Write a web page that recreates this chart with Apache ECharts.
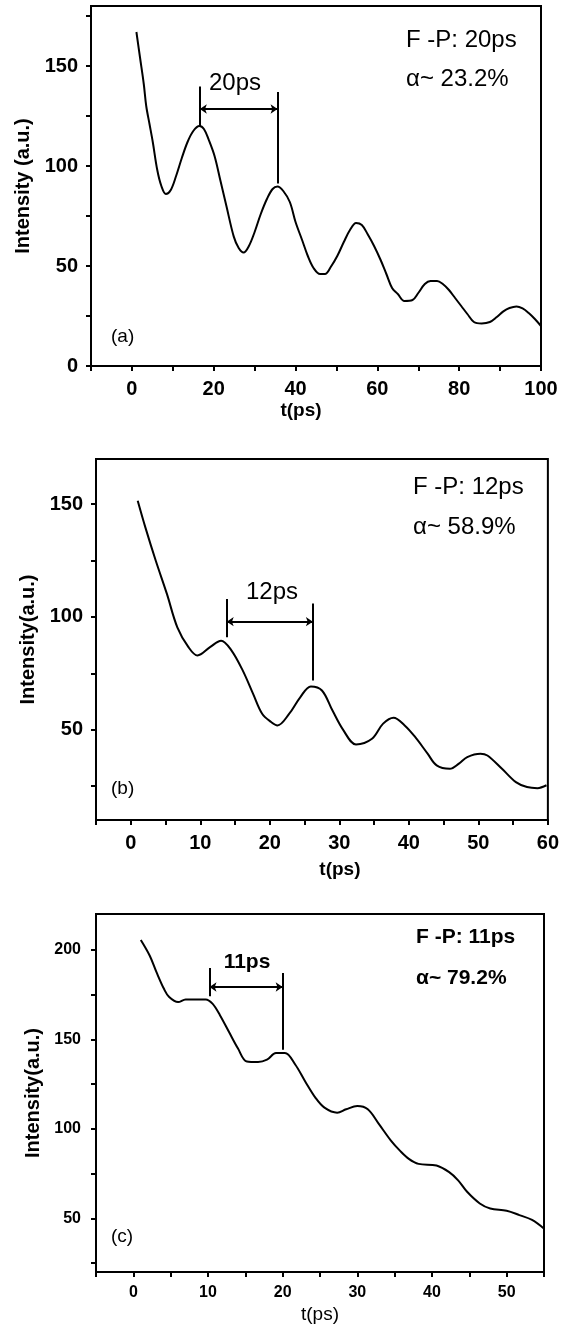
<!DOCTYPE html>
<html><head><meta charset="utf-8">
<script src="https://cdn.jsdelivr.net/npm/echarts@6/dist/echarts.min.js"></script>
<style>html,body{margin:0;padding:0;background:#fff}#c{width:562px;height:1325px}</style>
</head><body><div id="c"></div>
<script>
// ---------- Panel (a) data ----------
const tA = [1.1,2.0,2.9,3.5,4.3,5.1,6.2,7.2,8.3,9.5,10.8,12.2,13.6,15.0,16.5,17.6,18.8,20.2,21.6,23.1,24.9,26.1,27.3,28.6,30.0,31.5,33.0,34.4,35.6,37.0,38.6,40.0,41.6,43.0,44.4,46.0,47.2,48.6,50.2,51.8,53.3,54.8,56.2,57.6,59.2,60.8,62.2,63.6,65.0,66.6,68.6,70.0,71.6,73.0,74.6,76.0,77.5,79.0,80.5,82.0,83.6,85.5,87.5,89.2,90.8,92.3,94.0,95.5,97.0,98.5,100];
const iA = [167,154,141,130,121,112,98,90,86,88,95,104,112,117.5,120,118.5,113,105,93,80,64.7,59,56.7,60,67,76,83.5,88.5,89.7,87.5,82,72,63,55,49,46,46,49.5,55,62,68,71.5,70.5,66,60,53,46,39,36,32.5,33,36.5,41,42.5,42.5,41,38,34,30,26,22,21.3,22,24.5,27.3,29,29.8,28.8,26.5,23.5,20];
// ---------- Panel (b) data ----------
const tB = [1.0,2.1,3.6,5.2,6.7,8.3,9.6,11.4,13.0,14.5,16.1,17.6,18.9,20.2,21.1,22.8,24.4,25.9,27.5,29.0,30.6,32.4,34.7,36.3,37.8,39.4,40.9,42.7,44.0,45.9,47.2,48.4,50.3,51.3,53.4,55.4,57.0,58.5,59.8];
const iB = [151.5,139.7,124.9,110.2,95.4,86.6,82.9,86.6,89.5,85.1,76.3,65.9,57.1,53.4,51.9,57.1,64.5,69.2,67.4,58.6,49.7,43.5,46.0,52.7,55.3,51.9,46.8,39.4,34.2,32.7,35.0,37.9,39.4,38.6,32.7,26.8,24.6,24.1,25.4];
// ---------- Panel (c) data ----------
const tC = [1.0,2.2,3.1,4.1,4.8,6.0,7.0,9.7,10.6,11.6,12.8,14.0,15.2,16.7,17.9,19.1,20.3,21.7,23.0,24.4,25.6,27.3,28.5,30.0,31.4,32.9,34.5,35.7,36.9,38.2,40.6,42.3,43.5,44.7,46.4,47.8,50.0,51.7,53.4,55.1];
const iC = [205.5,196.7,187.5,178.2,173.6,170.8,172.3,172.3,169.9,163.5,154.2,145.0,137.6,137.3,138.6,142.3,142.3,135.8,126.6,117.3,111.8,109.0,110.9,112.7,110.9,102.6,93.4,87.8,83.2,80.4,79.5,75.8,71.2,64.8,58.3,55.5,54.2,51.8,49.1,43.9];

// ---------- axis ranges & ticks ----------
const xRangeA = [-10, 100], yRangeA = [0, 180];
const xLabelsA = [0, 20, 40, 60, 80, 100];
const xTicksA = [-10, 0, 10, 20, 30, 40, 50, 60, 70, 80, 90, 100];
const yLabelsA = [0, 50, 100, 150];
const yTicksA = [0, 25, 50, 75, 100, 125, 150, 175];

const xRangeB = [-5, 60], yRangeB = [10, 170];
const xLabelsB = [0, 10, 20, 30, 40, 50, 60];
const xTicksB = [-5, 0, 5, 10, 15, 20, 25, 30, 35, 40, 45, 50, 55, 60];
const yLabelsB = [50, 100, 150];
const yTicksB = [25, 50, 75, 100, 125, 150];

const xRangeC = [-5, 55], yRangeC = [20, 220];
const xLabelsC = [0, 10, 20, 30, 40, 50];
const xTicksC = [-5, 0, 5, 10, 15, 20, 25, 30, 35, 40, 45, 50, 55];
const yLabelsC = [50, 100, 150, 200];
const yTicksC = [25, 50, 75, 100, 125, 150, 175, 200];

// ---------- bracket annotations: [x1, x2, yTop1, yBot1, yTop2, yBot2, yArrow] ----------
const bracketA = [16.6, 35.6, 139.7, 120, 137, 91.3, 128.5];
const bracketB = [13.8, 26.2, 108, 91, 106, 71.8, 97.9];
const bracketC = [10.2, 20.0, 189.8, 174, 187.1, 144.1, 179.2];

const texts = {
  a: ['F -P: 20ps', 'α~ 23.2%', '20ps', '(a)'],
  b: ['F -P: 12ps', 'α~ 58.9%', '12ps', '(b)'],
  c: ['F -P: 11ps', 'α~ 79.2%', '11ps', '(c)']
};

const FONT = 'Liberation Sans, Arial, sans-serif';
const chart = echarts.init(document.getElementById('c'), null, {renderer: 'canvas'});

function xAxis(idx, range, labels, ticks, lblSize, nameGap, namePad, nameBold) {
  return {
    type: 'value', gridIndex: idx, min: range[0], max: range[1],
    name: 't(ps)', nameLocation: 'middle', nameGap: nameGap,
    nameTextStyle: {fontFamily: FONT, fontWeight: nameBold ? 'bold' : 'normal', fontSize: 19, color: '#000', padding: namePad},
    axisLine: {show: true, onZero: false, lineStyle: {color: '#000', width: 2}},
    axisTick: {show: true, inside: false, length: 5, customValues: ticks, lineStyle: {color: '#000', width: 2}},
    axisLabel: {customValues: labels, margin: 13, fontFamily: FONT, fontWeight: 'bold', fontSize: lblSize, color: '#000'},
    splitLine: {show: false}
  };
}
function yAxis(idx, range, labels, ticks, lblSize, name, margin) {
  return {
    type: 'value', gridIndex: idx, min: range[0], max: range[1],
    name: name, nameLocation: 'middle', nameGap: 53, nameRotate: 90,
    nameTextStyle: {fontFamily: FONT, fontWeight: 'bold', fontSize: 20, color: '#000'},
    axisLine: {show: true, onZero: false, lineStyle: {color: '#000', width: 2}},
    axisTick: {show: true, inside: false, length: 5, customValues: ticks, lineStyle: {color: '#000', width: 2}},
    axisLabel: {customValues: labels, margin: margin, fontFamily: FONT, fontWeight: 'bold', fontSize: lblSize, color: '#000'},
    splitLine: {show: false}
  };
}
function zip(t, v) { return t.map((x, i) => [x, v[i]]); }
function bracket(b) {
  return [
    [{coord: [b[0], b[2]], symbol: 'none'}, {coord: [b[0], b[3]], symbol: 'none'}],
    [{coord: [b[1], b[4]], symbol: 'none'}, {coord: [b[1], b[5]], symbol: 'none'}],
    [{coord: [b[0], b[6]], symbol: 'arrow', symbolSize: 7}, {coord: [b[1], b[6]], symbol: 'arrow', symbolSize: 7}]
  ];
}
function series(idx, data, br) {
  return {
    type: 'line', xAxisIndex: idx, yAxisIndex: idx, data: data,
    showSymbol: false, smooth: 0.35, lineStyle: {color: '#000', width: 2}, silent: true,
    markLine: {silent: true, symbol: ['none', 'none'], label: {show: false},
      lineStyle: {color: '#000', width: 2, type: 'solid'}, data: bracket(br)}
  };
}
function txt(x, y, s, size, align, bold) {
  return {type: 'text', x: x, y: y, silent: true,
    style: {text: s, fill: '#000', font: (bold ? 'bold ' : '') + size + 'px ' + FONT, align: align, verticalAlign: 'middle'}};
}

const option = {
  animation: false,
  backgroundColor: '#fff',
  grid: [
    {left: 91, top: 6, width: 450, height: 360, show: true, borderColor: '#000', borderWidth: 2, backgroundColor: 'transparent'},
    {left: 96, top: 459, width: 452, height: 361, show: true, borderColor: '#000', borderWidth: 2, backgroundColor: 'transparent'},
    {left: 96, top: 914, width: 448, height: 358, show: true, borderColor: '#000', borderWidth: 2, backgroundColor: 'transparent'}
  ],
  xAxis: [
    xAxis(0, xRangeA, xLabelsA, xTicksA, 20, 35, [0, 30, 0, 0], true),
    xAxis(1, xRangeB, xLabelsB, xTicksB, 20, 40, [0, 0, 0, 36], true),
    xAxis(2, xRangeC, xLabelsC, xTicksC, 16, 33, [0, 0, 0, 0], false)
  ],
  yAxis: [
    yAxis(0, yRangeA, yLabelsA, yTicksA, 20, 'Intensity (a.u.)', 13),
    yAxis(1, yRangeB, yLabelsB, yTicksB, 20, 'Intensity(a.u.)', 13),
    yAxis(2, yRangeC, yLabelsC, yTicksC, 16, 'Intensity(a.u.)', 15)
  ],
  series: [
    series(0, zip(tA, iA), bracketA),
    series(1, zip(tB, iB), bracketB),
    series(2, zip(tC, iC), bracketC)
  ],
  graphic: [
    txt(406, 40, texts.a[0], 24, 'left'),
    txt(406, 79, texts.a[1], 24, 'left'),
    txt(235, 83, texts.a[2], 24, 'center'),
    txt(111, 337, texts.a[3], 19, 'left'),
    txt(413, 487, texts.b[0], 24, 'left'),
    txt(413, 527, texts.b[1], 24, 'left'),
    txt(272, 592, texts.b[2], 24, 'center'),
    txt(111, 789, texts.b[3], 19, 'left'),
    txt(416, 937, texts.c[0], 21, 'left', true),
    txt(416, 978, texts.c[1], 21, 'left', true),
    txt(247, 962, texts.c[2], 21, 'center', true),
    txt(111, 1237, texts.c[3], 19, 'left')
  ]
};
chart.setOption(option);
</script>
</body></html>
